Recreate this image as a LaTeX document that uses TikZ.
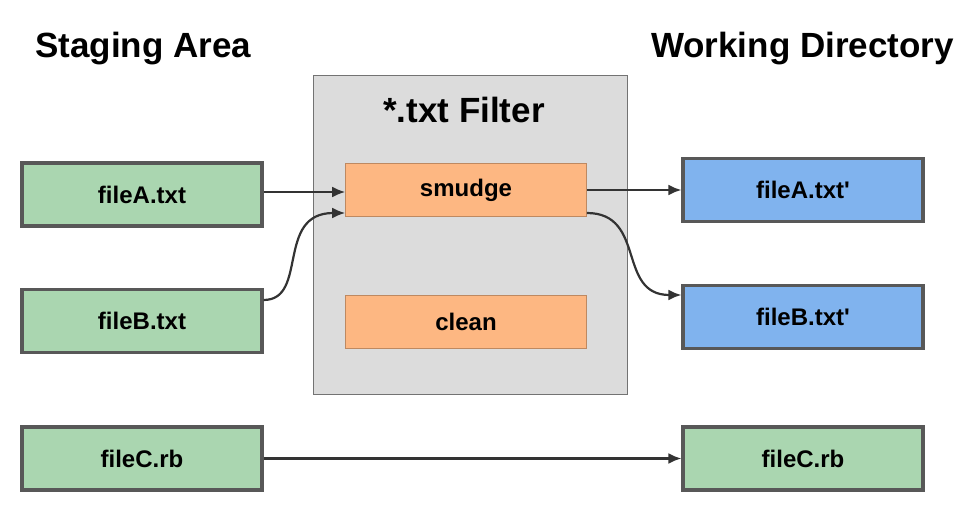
\documentclass[tikz,border=0pt]{standalone}
\usepackage{fontspec}
\setmainfont{Liberation Sans}
\usepackage{tikz}
\usetikzlibrary{positioning, arrows.meta}

\definecolor{stagegreen}{RGB}{170,214,176}
\definecolor{workblue}{RGB}{128,179,238}
\definecolor{filterorange}{RGB}{253,183,130}
\definecolor{filtergray}{RGB}{220,220,220}
\definecolor{edgegray}{RGB}{88,88,88}

\begin{document}
\begin{tikzpicture}[x=1pt, y=-1pt,
    title/.style={font=\fontsize{35}{40}\selectfont\bfseries, inner sep=0pt},
    filebox/.style={draw=edgegray, line width=3.2pt, minimum width=240pt, minimum height=63pt,
      inner sep=0pt, font=\fontsize{24}{28}\selectfont\bfseries},
    staged/.style={filebox, fill=stagegreen},
    working/.style={filebox, fill=workblue},
    filterbox/.style={draw=black!55, line width=1.8pt, fill=filtergray, minimum width=314pt,
      minimum height=319pt, inner sep=0pt},
    op/.style={draw=filterorange!75!black, line width=0.6pt, fill=filterorange, minimum width=241pt,
      minimum height=53pt, inner sep=0pt, font=\fontsize{24}{28}\selectfont\bfseries},
    flow/.style={draw=black!80, line width=2.2pt, -{Latex[length=13pt, width=11pt]}}
  ]
  \useasboundingbox (0,0) rectangle (959,516);

  % -- 1. HEADINGS --
  \node[title, anchor=base west] (stagehead) at (35,58) {Staging Area};
  \node[title, anchor=base east] (workhead) at (954,58) {Working Directory};

  % -- 2. THE FILTER --
  \node[filterbox] (filter) at (470.5,235) {};
  \node[title, anchor=base] (filterhead) at (464,123) {*.txt Filter};
  \node[op] (smudge) at (466,190) {smudge};
  \node[op] (clean) at (466,321.5) {clean};

  % -- 3. FILES --
  % staging side
  \node[staged] (fileA) at (142,194.5) {fileA.txt};
  \node[staged] (fileB) at (142,321) {fileB.txt};
  \node[staged] (fileC) at (142,458.5) {fileC.rb};
  % working side
  \node[working] (fileAw) at (803,190) {fileA.txt\textquotesingle};
  \node[working] (fileBw) at (803,317) {fileB.txt\textquotesingle};
  \node[staged] (fileCw) at (803,458.5) {fileC.rb};

  % -- 4. FLOWS --
  \coordinate (aout) at ([yshift=2.5pt]fileA.east);
  \coordinate (bout) at ([yshift=21pt]fileB.east);
  \coordinate (sin) at ([yshift=-23pt]smudge.west);
  \coordinate (sout) at ([yshift=-23pt]smudge.east);
  \coordinate (bin) at ([yshift=22pt]fileBw.west);

  \draw[flow] (aout) -- (aout -| smudge.west);
  \draw[flow] (bout) .. controls +(45,0) and +(-70,0) .. (sin);
  \draw[flow] (smudge.east) -- (fileAw.west);
  \draw[flow] (sout) .. controls +(60,0) and +(-65,0) .. (bin);
  \draw[flow] (fileC.east) -- (fileCw.west);
\end{tikzpicture}
\end{document}
